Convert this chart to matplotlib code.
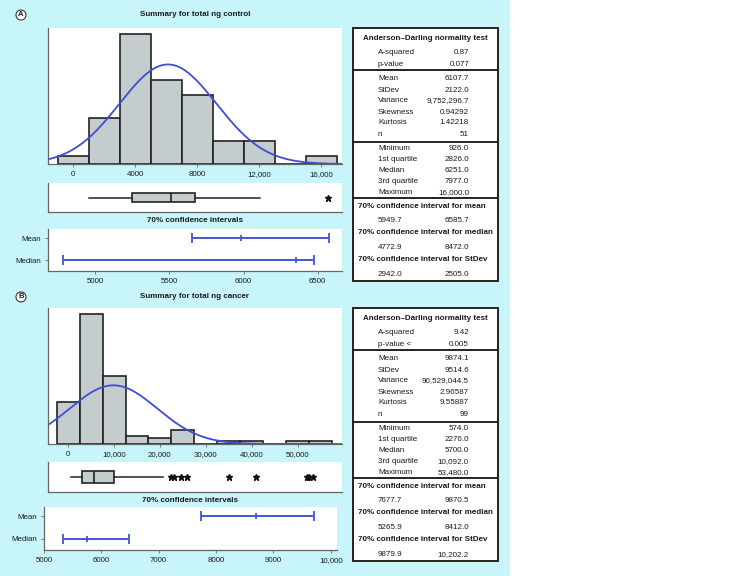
import numpy as np
import matplotlib
matplotlib.use('Agg')
import matplotlib.pyplot as plt
from matplotlib.patches import Rectangle
from matplotlib.ticker import FuncFormatter

plt.rcParams['font.family'] = ['Liberation Sans', 'DejaVu Sans']

# ---- datos panel A (control) ----
ctrl_centros = [0, 2000, 4000, 6000, 8000, 10000, 12000, 14000, 16000]
ctrl_cuentas = [1, 6, 17, 11, 9, 3, 3, 0, 1]
ctrl_ancho = 2000
ctrl_media = 6107.7
ctrl_varianza = 9752296.7
ctrl_n = 51
ctrl_caja = [1030, 3815, 6270, 7870, 12030]  # min bigote, q1, mediana, q3, max bigote
ctrl_atipicos = [16440]
ctrl_ic_media = [5654, 5981, 6574]  # inferior, centro, superior
ctrl_ic_mediana = [4781, 6355, 6479]
ctrl_ticks_hist = [0, 4000, 8000, 12000, 16000]
ctrl_ticks_ic = [5000, 5500, 6000, 6500]

ctrl_ad = [('A-squared', '0.87'), ('p-value', '0.077')]
ctrl_momentos = [('Mean', '6107.7'), ('StDev', '2122.0'), ('Variance', '9,752,296.7'),
                 ('Skewness', '0.94292'), ('Kurtosis', '1.42218'), ('n', '51')]
ctrl_cuartiles = [('Minimum', '926.0'), ('1st quartile', '2826.0'), ('Median', '6251.0'),
                  ('3rd quartile', '7977.0'), ('Maximum', '16,000.0')]
ctrl_intervalos = [('70% confidence interval for mean', '5949.7', '6585.7'),
                   ('70% confidence interval for median', '4772.9', '8472.0'),
                   ('70% confidence interval for StDev', '2942.0', '2505.0')]

# ---- datos panel B (cancer) ----
canc_centros = [0, 5000, 10000, 15000, 20000, 25000, 30000, 35000, 40000, 45000, 50000, 55000]
canc_cuentas = [15, 46, 24, 3, 2, 5, 0, 1, 1, 0, 1, 1]
canc_ancho = 5000
canc_media = 9874.1
canc_varianza = 90529044.5
canc_n = 99
canc_caja = [574, 2950, 5700, 10092, 20700]
canc_atipicos = [22400, 23000, 24700, 26000, 35000, 41000, 52000, 52600, 53480]
canc_ic_media = [7742, 8696, 9715]
canc_ic_mediana = [5338, 5757, 6484]
canc_ticks_hist = [0, 10000, 20000, 30000, 40000, 50000]
canc_ticks_ic = [5000, 6000, 7000, 8000, 9000, 10000]

canc_ad = [('A-squared', '9.42'), ('p-value <', '0.005')]
canc_momentos = [('Mean', '9874.1'), ('StDev', '9514.6'), ('Variance', '90,529,044.5'),
                 ('Skewness', '2.96587'), ('Kurtosis', '9.55887'), ('n', '99')]
canc_cuartiles = [('Minimum', '574.0'), ('1st quartile', '2276.0'), ('Median', '5700.0'),
                  ('3rd quartile', '10,092.0'), ('Maximum', '53,480.0')]
canc_intervalos = [('70% confidence interval for mean', '7677.7', '9870.5'),
                   ('70% confidence interval for median', '5265.9', '8412.0'),
                   ('70% confidence interval for StDev', '9879.9', '10,202.2')]

W, H = 739, 576
FONDO = '#C8F5FA'
GRIS = '#C4CCCE'
AZUL = '#3C4ED6'
TXT = '#1a1a1a'
FS = 5.8

fig = plt.figure(figsize=(W / 100, H / 100), dpi=100)
fig.patches.append(Rectangle((0, 0), 510 / W, 1, transform=fig.transFigure,
                             facecolor=FONDO, edgecolor='none', zorder=-1))


def pos(x0, y0, x1, y1):
    return [x0 / W, 1 - y1 / H, (x1 - x0) / W, (y1 - y0) / H]


def formato(v, p):
    return f'{v:,.0f}' if v >= 10000 else f'{v:.0f}'


def estilo(ax):
    for s in ['top', 'right']:
        ax.spines[s].set_visible(False)
    for s in ['left', 'bottom']:
        ax.spines[s].set_color('#666666')
        ax.spines[s].set_linewidth(0.9)
    ax.tick_params(length=2.5, width=0.6, color='#666666', labelsize=5.7,
                   labelcolor=TXT, pad=2.5)


def panel(dy, centros, cuentas, ancho, media, varianza, n, ylim_top, xlim,
          caja, ancho_caja, atipicos, ic_media, ic_mediana, ticks_hist,
          ticks_ic, xlim_ic, pos_ic):
    # histograma con curva normal ajustada
    ax = fig.add_axes(pos(48, 28 + dy, 342, 164 + dy))
    ax.bar(centros, cuentas, width=ancho, color=GRIS, edgecolor='#222222', linewidth=1.2)
    xs = np.linspace(xlim[0], xlim[1], 400)
    sd = np.sqrt(varianza)
    ys = n * ancho / (sd * np.sqrt(2 * np.pi)) * np.exp(-0.5 * ((xs - media) / sd) ** 2)
    ax.plot(xs, ys, color=AZUL, lw=1.3)
    ax.set_xlim(xlim)
    ax.set_ylim(0, ylim_top)
    ax.set_yticks([])
    ax.set_xticks(ticks_hist)
    ax.xaxis.set_major_formatter(FuncFormatter(formato))
    estilo(ax)

    # diagrama de caja
    axb = fig.add_axes(pos(48, 183 + dy - (1 if dy else 0), 342, 212 + dy))
    stats = [dict(whislo=caja[0], q1=caja[1], med=caja[2], q3=caja[3],
                  whishi=caja[4], fliers=atipicos)]
    axb.bxp(stats, positions=[0], widths=ancho_caja, vert=False, patch_artist=True,
            showcaps=False,
            boxprops=dict(facecolor=GRIS, edgecolor='#222222', linewidth=1.2),
            medianprops=dict(color='#222222', linewidth=1.2),
            whiskerprops=dict(color='#222222', linewidth=1.1),
            flierprops=dict(marker='*', markersize=5, markerfacecolor='#111111',
                            markeredgecolor='#111111'))
    axb.set_xlim(xlim)
    axb.set_ylim(-0.5, 0.5)
    axb.set_xticks([])
    axb.set_yticks([])
    estilo(axb)

    # intervalos de confianza
    axc = fig.add_axes(pos(*pos_ic))
    for y, (lo, c, hi) in zip([1, 0], [ic_media, ic_mediana]):
        axc.errorbar([c], [y], xerr=[[c - lo], [hi - c]], fmt='|', color='#4455D5',
                     markersize=5, capsize=3.5, elinewidth=1.4, capthick=1.3,
                     markeredgewidth=1.3)
    axc.set_xlim(xlim_ic)
    axc.set_ylim(-0.5, 1.42)
    axc.set_yticks([1, 0])
    axc.set_yticklabels(['Mean', 'Median'])
    axc.set_xticks(ticks_ic)
    axc.xaxis.set_major_formatter(FuncFormatter(formato))
    estilo(axc)


panel(0, ctrl_centros, ctrl_cuentas, ctrl_ancho, ctrl_media, ctrl_varianza, ctrl_n,
      17.8, (-1630, 17330), ctrl_caja, 0.3, ctrl_atipicos, ctrl_ic_media,
      ctrl_ic_mediana, ctrl_ticks_hist, ctrl_ticks_ic, (4680, 6665), (48, 229, 342, 271))
panel(280, canc_centros, canc_cuentas, canc_ancho, canc_media, canc_varianza, canc_n,
      48.1, (-4400, 59700), canc_caja, 0.39, canc_atipicos, canc_ic_media,
      canc_ic_mediana, canc_ticks_hist, canc_ticks_ic, (5000, 10110), (44, 507, 337, 550))

# capa superior en coordenadas de pixel para textos y tablas
top = fig.add_axes([0, 0, 1, 1])
top.set_xlim(0, W)
top.set_ylim(H, 0)
top.axis('off')
top.patch.set_visible(False)


def tabla(y0, ad, momentos, cuartiles, intervalos):
    x0, x1 = 353, 498
    top.add_patch(Rectangle((x0, y0), x1 - x0, 253, facecolor='white',
                            edgecolor='#222222', linewidth=1.4))
    for d in (42, 114, 170):
        top.plot([x0, x1], [y0 + d, y0 + d], color='#222222', lw=1.4)
    top.text((x0 + x1) / 2, y0 + 11, 'Anderson\u2013Darling normality test',
             fontsize=FS, fontweight='bold', ha='center', va='center', color=TXT)
    filas = [(ad, 24, 12), (momentos, 51, 11), (cuartiles, 121, 10.8)]
    for datos, ini, paso in filas:
        for i, (nombre, valor) in enumerate(datos):
            y = y0 + ini + i * paso
            top.text(378, y, nombre, fontsize=FS, ha='left', va='center', color=TXT)
            top.text(469, y, valor, fontsize=FS, ha='right', va='center', color=TXT)
    for i, (titulo, lo, hi) in enumerate(intervalos):
        y = y0 + 178 + i * 26.8
        top.text(358, y, titulo, fontsize=FS, fontweight='bold', ha='left',
                 va='center', color=TXT)
        top.text(378, y + 15, lo, fontsize=FS, ha='left', va='center', color=TXT)
        top.text(469, y + 15, hi, fontsize=FS, ha='right', va='center', color=TXT)


tabla(28, ctrl_ad, ctrl_momentos, ctrl_cuartiles, ctrl_intervalos)
tabla(308, canc_ad, canc_momentos, canc_cuartiles, canc_intervalos)

for letra, y, titulo in [('A', 15, 'Summary for total ng control'),
                         ('B', 297, 'Summary for total ng cancer')]:
    top.text(21, y, letra, fontsize=5.5, fontweight='bold', ha='center', va='center',
             color=TXT, bbox=dict(boxstyle='circle,pad=0.2', facecolor='white',
                                  edgecolor='#222222', linewidth=0.7))
    top.text(195, y, titulo, fontsize=FS, fontweight='bold', ha='center', va='center',
             color=TXT)
top.text(195, 220, '70% confidence intervals', fontsize=FS, fontweight='bold',
         ha='center', va='center', color=TXT)
top.text(190, 500, '70% confidence intervals', fontsize=FS, fontweight='bold',
         ha='center', va='center', color=TXT)

fig.savefig('out.png', dpi=100)
